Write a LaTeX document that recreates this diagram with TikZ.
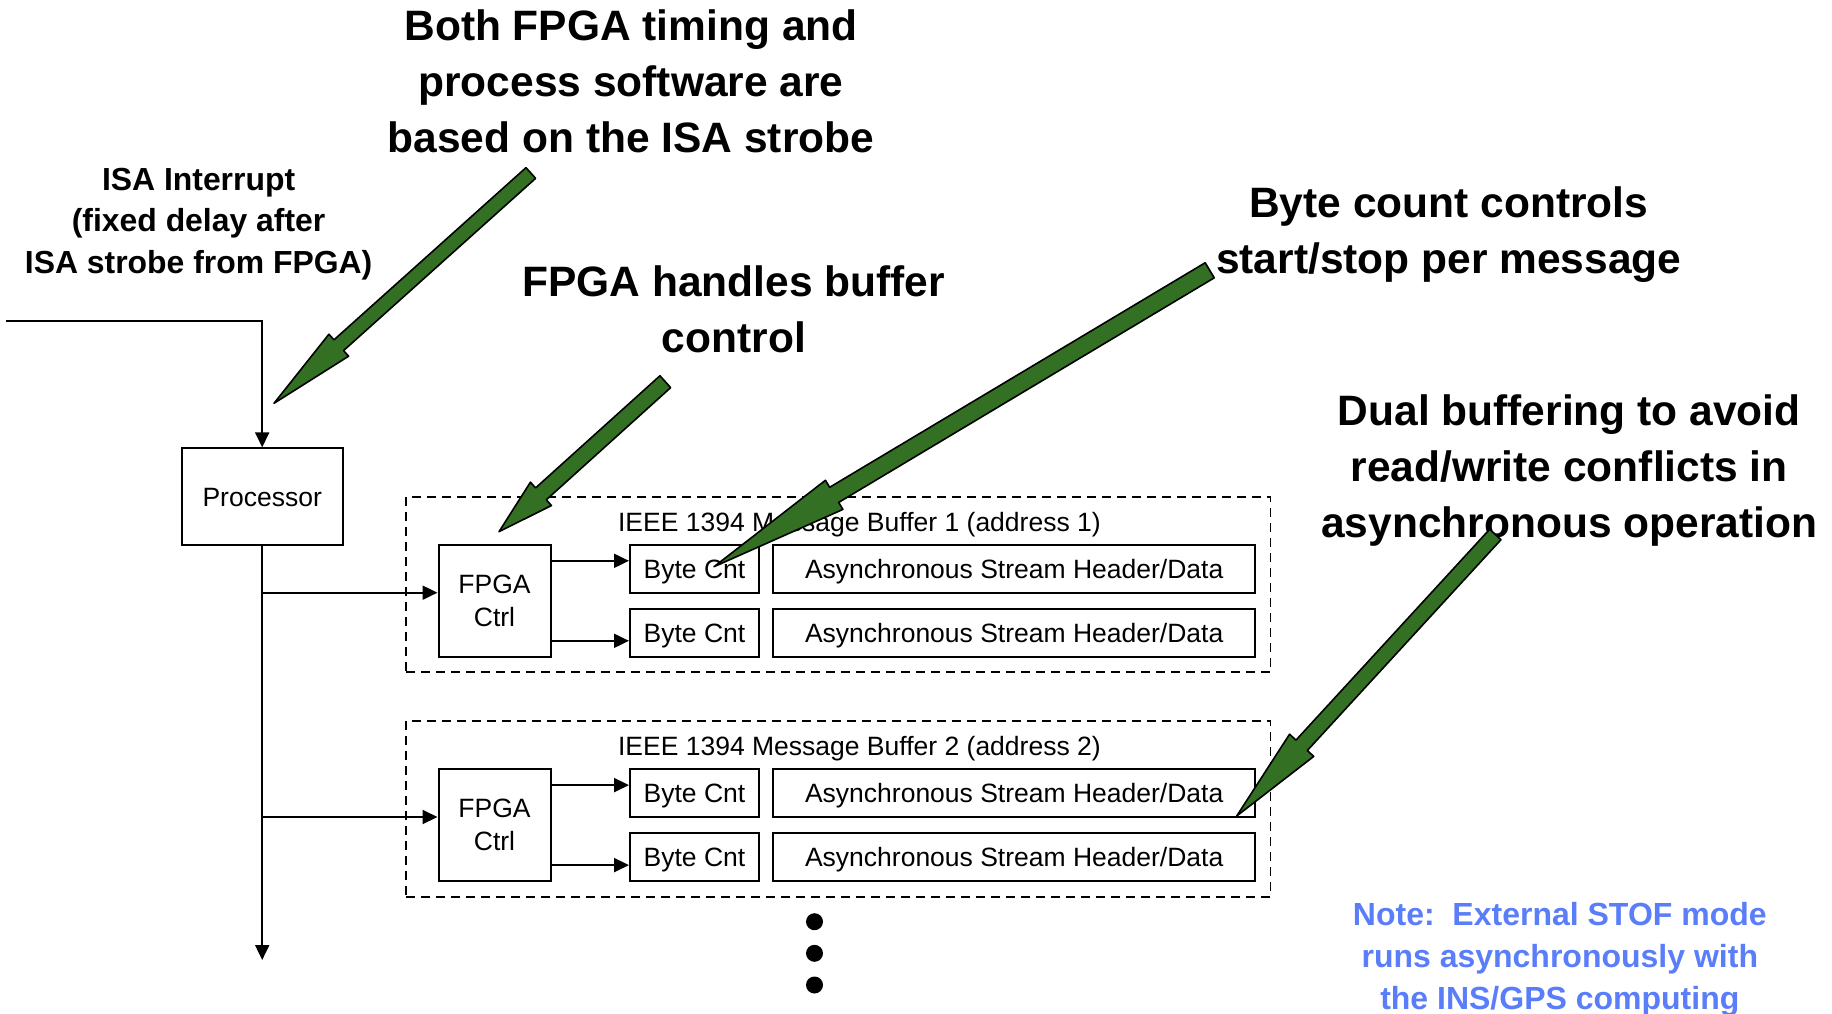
\documentclass[tikz,border=0pt]{standalone}
\usepackage{fontspec}
\setmainfont{Liberation Sans}
\usetikzlibrary{calc,arrows.meta}
\definecolor{agreen}{RGB}{51,112,35}
\definecolor{noteblue}{RGB}{90,125,250}
% green block arrow: #1 tail coordinate, #2 tip coordinate, #3 shaft half width, #4 head half width, #5 head length
\newcommand\garrow[5]{%
  \coordinate (#1b) at ($(#2)!#5!(#1)$);
  \draw[garrowstyle] ($(#1)!#3!90:(#2)$) -- ($(#1b)!#3!90:(#2)$) -- ($(#1b)!#4!90:(#2)$) -- (#2)
    -- ($(#1b)!#4!-90:(#2)$) -- ($(#1b)!#3!-90:(#2)$) -- ($(#1)!#3!-90:(#2)$) -- cycle;}
\begin{document}
\begin{tikzpicture}[x=1pt,y=-1pt,
  box/.style={draw, line width=2pt, inner sep=0pt, font=\fontsize{26.5}{32.7}\selectfont, text height=19pt, text depth=0pt},
  fpgabox/.style={draw, line width=2pt, inner sep=0pt, font=\fontsize{26.5}{32.7}\selectfont, align=center, minimum width=112pt, minimum height=112pt},
  bcbox/.style={box, minimum width=129pt, minimum height=47.7pt},
  asbox/.style={box, minimum width=481.5pt, minimum height=47.7pt},
  bufbox/.style={draw, line width=1.8pt, dash pattern=on 9pt off 6pt, minimum width=864.5pt, minimum height=175.6pt, inner sep=0pt},
  buflabel/.style={font=\fontsize{26.5}{32.7}\selectfont, anchor=base, inner sep=0pt},
  conn/.style={line width=2pt, -{Triangle[length=15pt,width=14pt]}},
  ann/.style={font=\fontsize{42.5}{56}\selectfont\bfseries, align=center, anchor=base, inner sep=0pt},
  annsmall/.style={font=\fontsize{31.9}{41.5}\selectfont\bfseries, align=center, anchor=base, inner sep=0pt},
  notetext/.style={font=\fontsize{32}{42}\selectfont\bfseries, align=center, anchor=base, inner sep=0pt, text=noteblue},
  dot/.style={circle, fill=black, inner sep=0pt, minimum size=17pt},
  garrowstyle/.style={fill=agreen, draw=black, line width=1.6pt, line join=round}
]
\useasboundingbox (0,0) rectangle (1832,1014);

% annotations (anchor = baseline of the last line)
\node[ann] (t1) at (631,153) {Both FPGA timing and\\process software are\\based on the ISA strobe};
\node[annsmall] (t2) at (198.6,273.3) {ISA Interrupt\\(fixed delay after\\ISA strobe from FPGA)};
\node[ann] (t3) at (733.8,352.9) {FPGA handles buffer\\control};
\node[ann] (t4) at (1448.8,273.4) {Byte count controls\\start/stop per message};
\node[ann] (t5) at (1569.2,537.4) {Dual buffering to avoid\\read/write conflicts in\\asynchronous operation};
\node[notetext] (t6) at (1559.8,1009.2) {Note:\ \ External STOF mode\\runs asynchronously with\\the INS/GPS computing};

% processor
\node[box, minimum width=161pt, minimum height=96.7pt] (proc) at (262.2,496.7) {Processor};

% buffer 1
\node[bufbox] (buf1) at (838.25,584.5) {};
\node[buflabel] (lab1) at (859.4,531.5) {IEEE 1394 Message Buffer 1 (address 1)};
\node[fpgabox] (fpga1) at (494.5,600.8) {FPGA\\Ctrl};
\node[bcbox] (bc11) at (694.5,568.8) {Byte Cnt};
\node[bcbox] (bc12) at (694.5,632.8) {Byte Cnt};
\node[asbox] (as11) at (1014.2,568.8) {Asynchronous Stream Header/Data};
\node[asbox] (as12) at (1014.2,632.8) {Asynchronous Stream Header/Data};

% buffer 2
\node[bufbox] (buf2) at (838.25,808.8) {};
\node[buflabel] (lab2) at (859.4,755.8) {IEEE 1394 Message Buffer 2 (address 2)};
\node[fpgabox] (fpga2) at (494.5,825.1) {FPGA\\Ctrl};
\node[bcbox] (bc21) at (694.5,793.1) {Byte Cnt};
\node[bcbox] (bc22) at (694.5,857.1) {Byte Cnt};
\node[asbox] (as21) at (1014.2,793.1) {Asynchronous Stream Header/Data};
\node[asbox] (as22) at (1014.2,857.1) {Asynchronous Stream Header/Data};

% dots
\node[dot] (d1) at (814.5,921.7) {};
\node[dot] (d2) at (814.5,953.3) {};
\node[dot] (d3) at (814.5,985) {};

% connectors
\coordinate (in) at (6,320.5);
\draw[conn] (in) -| (proc.north);
\coordinate (busend) at (262.2,960);
\draw[conn] (proc.south) -- (busend);
\coordinate (j1) at (262.2,592.7);
\coordinate (j2) at (262.2,817);
\draw[conn] (j1) -- (j1 -| fpga1.west);
\draw[conn] (j2) -- (j2 -| fpga2.west);
\coordinate (f1a) at ([yshift=40pt]fpga1.east);
\coordinate (f1b) at ([yshift=-40pt]fpga1.east);
\coordinate (f2a) at ([yshift=40pt]fpga2.east);
\coordinate (f2b) at ([yshift=-40pt]fpga2.east);
\draw[conn] (f1a) -- (f1a -| bc11.west);
\draw[conn] (f1b) -- (f1b -| bc12.west);
\draw[conn] (f2a) -- (f2a -| bc21.west);
\draw[conn] (f2b) -- (f2b -| bc22.west);

% green block arrows
\coordinate (ta) at (530.8,173);   \coordinate (pa) at (274,403.3);
\coordinate (tb) at (665.3,381.7); \coordinate (pb) at (499,531.7);
\coordinate (tc) at (1209.7,270.3);\coordinate (pc) at (714,566.7);
\coordinate (td) at (1495.3,534.5);\coordinate (pd) at (1236.7,816);
\garrow{ta}{pa}{7.2pt}{14.75pt}{87pt}
\garrow{tb}{pb}{8pt}{15.7pt}{56.5pt}
\garrow{tc}{pc}{8.8pt}{17pt}{140pt}
\garrow{td}{pd}{7.7pt}{16.4pt}{96pt}
\end{tikzpicture}
\end{document}
